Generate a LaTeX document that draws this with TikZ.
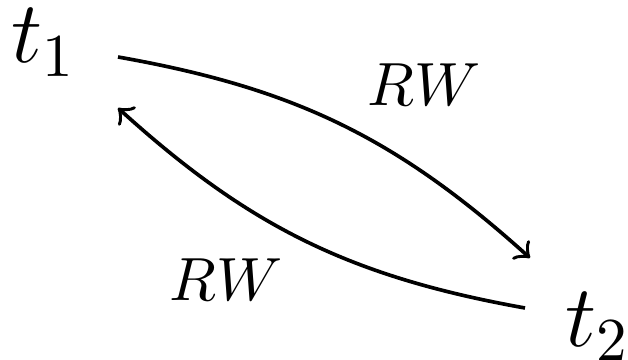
\documentclass[tikz,border=0pt]{standalone}
\usetikzlibrary{calc}

\begin{document}
\begin{tikzpicture}[x=0.1639pt,y=-0.1639pt,semithick]
\useasboundingbox (0,0) rectangle (628,360);
\node[inner sep=0,anchor=base west,font=\Large] (t1) at (10,63) {$t_1$};
\node[inner sep=0,anchor=base west,font=\Large] (t2) at (564,347) {$t_2$};
\draw[->] ($(t1.base west)+(108,-6)$) to[bend left=16] ($(t2.base west)+(-34,-89)$);
\draw[->] ($(t2.base west)+(-39,-39)$) to[bend left=16] ($(t1.base west)+(108,45)$);
\node (rw1) at (424,85) {$RW$};
\node (rw2) at (226,280) {$RW$};
\end{tikzpicture}
\end{document}
